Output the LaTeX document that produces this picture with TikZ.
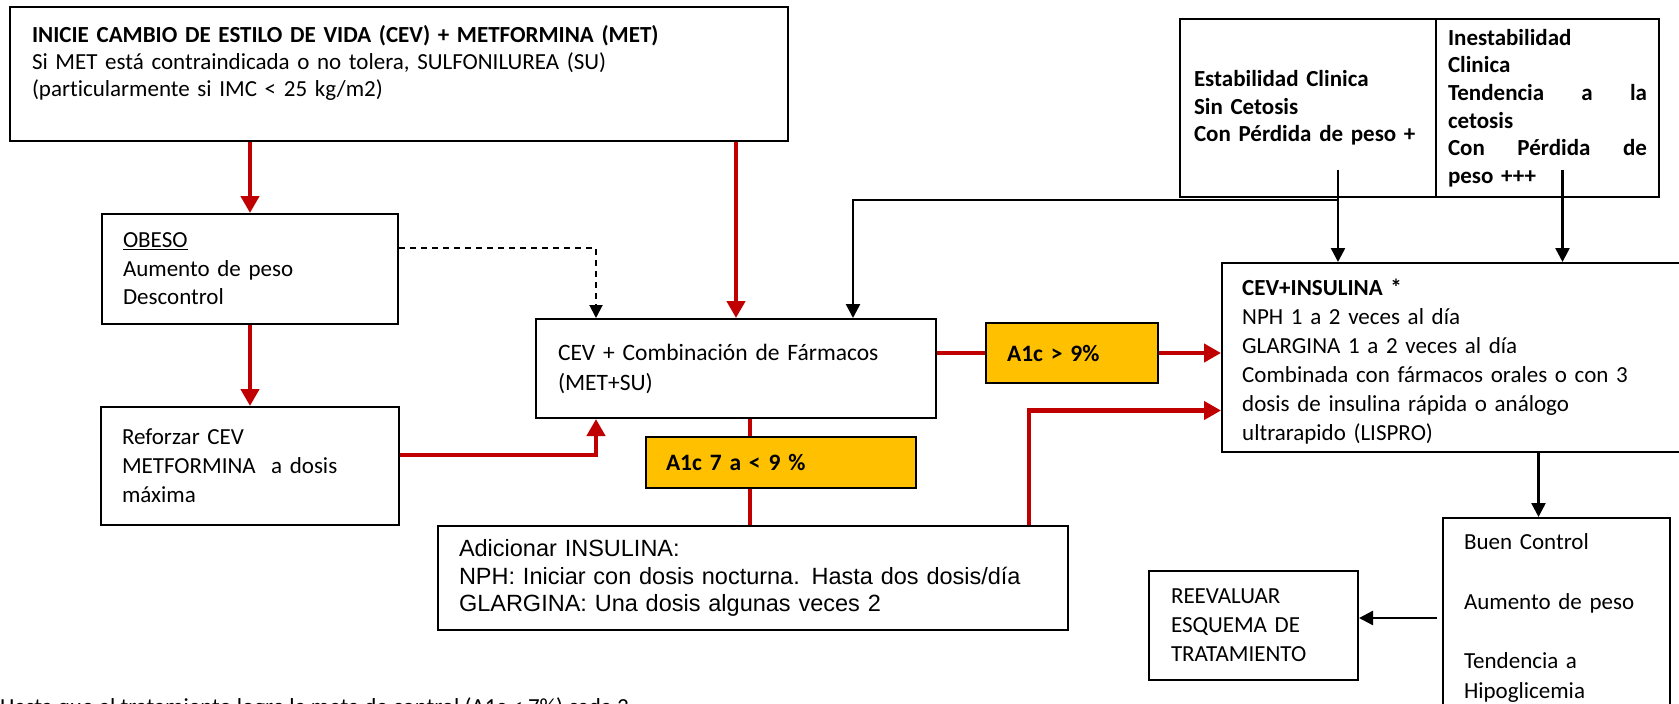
\documentclass[tikz,border=0pt]{standalone}
\usepackage{fontspec}
\setmainfont{Carlito}[Ligatures=NoCommon]
\newfontfamily\arialfont{Liberation Sans}
\usetikzlibrary{arrows.meta, calc}

\definecolor{flecha}{HTML}{C00000}
\definecolor{meta}{HTML}{FFC000}

\begin{document}
\begin{tikzpicture}[x=1pt, y=-1pt,
    caja/.style={draw, line width=2pt, anchor=north west, align=left, inner ysep=0pt, font=\fontsize{23}{29}\selectfont},
    roja/.style={draw=flecha, line width=4.5pt},
    rojaflecha/.style={roja, -{Triangle[width=18pt, length=17pt]}},
    negra/.style={line width=2.5pt, -{Triangle[width=14pt, length=14pt]}},
    punteada/.style={line width=2pt, dash pattern=on 6pt off 5pt, -{Triangle[width=13pt, length=13pt]}}]
    \useasboundingbox (0,0) rectangle (1679,704);

    \node[caja, minimum width=778pt, minimum height=134pt, text width=734pt, inner xsep=22pt, font=\fontsize{23}{27}\selectfont] (inicie) at (9,6)
        {\textbf{INICIE CAMBIO DE ESTILO DE VIDA (CEV) + METFORMINA (MET)}\\ Si MET está contraindicada o no tolera, SULFONILUREA (SU)\\ (particularmente si IMC < 25 kg/m2)\\ \mbox{}};
    \node[caja, minimum width=296pt, minimum height=110pt, text width=254pt, inner xsep=21pt, font=\fontsize{23}{28.5}\selectfont] (obeso) at (101,213)
        {\underline{OBESO}\\ Aumento de peso\\ Descontrol};
    \node[caja, minimum width=298pt, minimum height=118pt, text width=256pt, inner xsep=21pt] (reforzar) at (100,406)
        {Reforzar CEV\\ METFORMINA\ \ a dosis\\ máxima};
    \node[caja, minimum width=400pt, minimum height=99pt, text width=356pt, inner xsep=22pt, font=\fontsize{23.5}{30}\selectfont] (comb) at (535,318)
        {CEV + Combinación de Fármacos\\ (MET+SU)};
    \node[caja, fill=meta, minimum width=172pt, minimum height=60pt, text width=130pt, inner xsep=21pt, font=\fontsize{23.5}{29}\selectfont\bfseries] (mayor) at (985,322)
        {A1c > 9\%};
    \node[caja, fill=meta, minimum width=270pt, minimum height=51pt, text width=230pt, inner xsep=20pt, font=\fontsize{23.5}{29}\selectfont\bfseries] (rango) at (645,436)
        {A1c 7 a < 9 \%};
    \node[caja, minimum width=630pt, minimum height=104pt, text width=588pt, inner xsep=21pt, font=\arialfont\fontsize{23.5}{27.5}\selectfont] (adic) at (437,525)
        {Adicionar INSULINA:\\ NPH: Iniciar con dosis nocturna. Hasta dos dosis/día\\ GLARGINA: Una dosis algunas veces 2};
    \node[caja, minimum width=256pt, minimum height=178pt, text width=238pt, inner xsep=9pt, font=\fontsize{23}{27.5}\selectfont\bfseries] (estab) at (1179,18)
        {\hspace*{5pt}Estabilidad Clinica\\ \hspace*{5pt}Sin Cetosis\\ \hspace*{5pt}Con Pérdida de peso +};
    \node[caja, minimum width=223pt, minimum height=178pt, text width=199pt, inner xsep=12pt, font=\fontsize{23}{27.6}\selectfont\bfseries] (inest) at (1435,18)
        {Inestabilidad\\ Clinica\\ Tendencia\hfill a\hfill la\\ cetosis\\ Con\hfill Pérdida\hfill de\\ peso +++};
    \node[caja, minimum width=500pt, minimum height=189pt] (insul) at (1221,262) {};
    \begin{scope}
        \clip (insul.north west) rectangle ($(insul.south east)+(0,-10)$);
        \node[anchor=west, align=left, inner sep=0pt, text width=437pt, font=\fontsize{23}{29}\selectfont] (insultxt) at ($(insul.west)+(21,4)$)
            {\textbf{CEV+INSULINA *}\\ NPH 1 a 2 veces al día\\ GLARGINA 1 a 2 veces al día\\ Combinada con fármacos orales o con 3\\ dosis de insulina rápida o análogo\\ ultrarapido (LISPRO)};
    \end{scope}
    \node[caja, minimum width=227pt, minimum height=200pt, text width=185pt, inner xsep=21pt, font=\fontsize{23}{29.7}\selectfont] (buen) at (1442,517)
        {Buen Control\\ \mbox{}\\ Aumento de peso\\ \mbox{}\\ Tendencia a\\ Hipoglicemia};
    \node[caja, minimum width=209pt, minimum height=109pt, text width=165pt, inner xsep=22pt] (reeval) at (1148,570)
        {REEVALUAR\\ ESQUEMA DE\\ TRATAMIENTO};
    \node[anchor=base west, inner sep=0pt, font=\fontsize{23}{29}\selectfont] (nota) at (0,714)
        {Hasta que el tratamiento logre la meta de control (A1c < 7\%) cada 3};

    \coordinate (e1) at ($(estab.south)+(30,-28)$);
    \coordinate (e2) at ($(e1 |- estab.south)+(0,2)$);
    \coordinate (i1) at ($(inest.south)+(15,-28)$);
    \coordinate (c1) at ($(comb.south)+(14,0)$);
    \coordinate (a1) at ($(adic.north east)+(-40,0)$);
    \coordinate (a2) at ($(insul.west)+(0,53)$);
    \coordinate (b1) at ($(buen.north)+(-18,0)$);

    \draw[rojaflecha] (inicie.south -| obeso.north) -- (obeso.north);
    \draw[rojaflecha] (obeso.south) -- (reforzar.north);
    \draw[rojaflecha] (inicie.south -| comb.north) -- (comb.north);
    \draw[punteada] ($(obeso.east)+(0,-21)$) -| ($(comb.north west)+(61,0)$);
    \draw[rojaflecha] ($(reforzar.east)+(0,-11)$) -| ($(comb.south west)+(61,0)$);
    \draw[negra] (e2) -| ($(comb.north west)+(318,0)$);
    \draw[negra] (e1) -- (e1 |- insul.north);
    \draw[negra] (i1) -- (i1 |- insul.north);
    \draw[roja] (comb.east |- mayor.west) -- (mayor.west);
    \draw[rojaflecha] (mayor.east) -- (mayor.east -| insul.west);
    \draw[roja] (c1) -- (c1 |- rango.north);
    \draw[roja] (c1 |- rango.south) -- (c1 |- adic.north);
    \draw[rojaflecha] (a1) |- (a2);
    \draw[negra] (b1 |- insul.south) -- (b1);
    \draw[negra] ([xshift=-5pt]buen.west) -- (buen.west -| reeval.east);
\end{tikzpicture}
\end{document}
